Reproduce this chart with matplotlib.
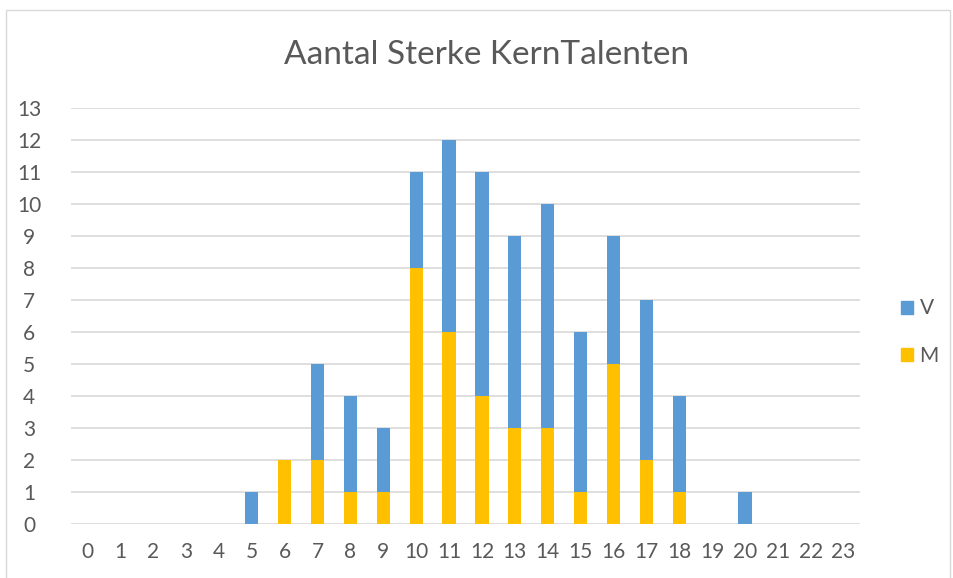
import matplotlib
matplotlib.use("Agg")
import matplotlib.pyplot as plt
from matplotlib.patches import Rectangle, Patch

categories = [str(i) for i in range(24)]
M = [0, 0, 0, 0, 0, 0, 2, 2, 1, 1, 8, 6, 4, 3, 3, 1, 5, 2, 1, 0, 0, 0, 0, 0]
V = [0, 0, 0, 0, 0, 1, 0, 3, 3, 2, 3, 6, 7, 6, 7, 5, 4, 5, 3, 0, 1, 0, 0, 0]
yticks = list(range(14))

plt.rcParams['font.family'] = ['Lato', 'DejaVu Sans']
TXT = '#595959'
BLUE = '#5B9BD5'
YEL = '#FFC000'

fig = plt.figure(figsize=(9.54, 5.78), dpi=100)
fig.patches.append(Rectangle((6/954, -0.1), (950-6)/954, 1 - 10/578 + 0.1,
                             transform=fig.transFigure, fill=False,
                             edgecolor='#D9D9D9', linewidth=1))
ax = fig.add_axes([71/954, 1-524/578, (860-71)/954, (524-108)/578])
x = list(range(len(categories)))
ax.bar(x, M, width=0.4, color=YEL, zorder=3)
ax.bar(x, V, width=0.4, bottom=M, color=BLUE, zorder=3)
ax.set_xlim(-0.5, len(categories)-0.5)
ax.set_ylim(0, 13)
ax.set_yticks(yticks)
ax.set_xticks(x)
ax.set_xticklabels(categories)
ax.yaxis.grid(True, color='#D9D9D9', linewidth=1.2, zorder=0)
for s in ax.spines.values():
    s.set_visible(False)
ax.tick_params(length=0, labelsize=15, colors=TXT)
ax.tick_params(axis='x', pad=13)
ax.tick_params(axis='y', pad=30)
for lab in ax.get_yticklabels():
    lab.set_horizontalalignment('center')
ax.set_axisbelow(True)

fig.text(487/954, 1-55/578, 'Aantal Sterke KernTalenten', ha='center', va='center',
         fontsize=24, color=TXT)

handles = [Patch(color=BLUE, label='V'), Patch(color=YEL, label='M')]
leg = fig.legend(handles=handles, loc='center left', bbox_to_anchor=(882/954, 1-332/578),
                 frameon=False, fontsize=15, handlelength=0.6, handleheight=0.6,
                 handletextpad=0.3, labelspacing=1.3, labelcolor=TXT)

fig.savefig('out.png', dpi=100)
